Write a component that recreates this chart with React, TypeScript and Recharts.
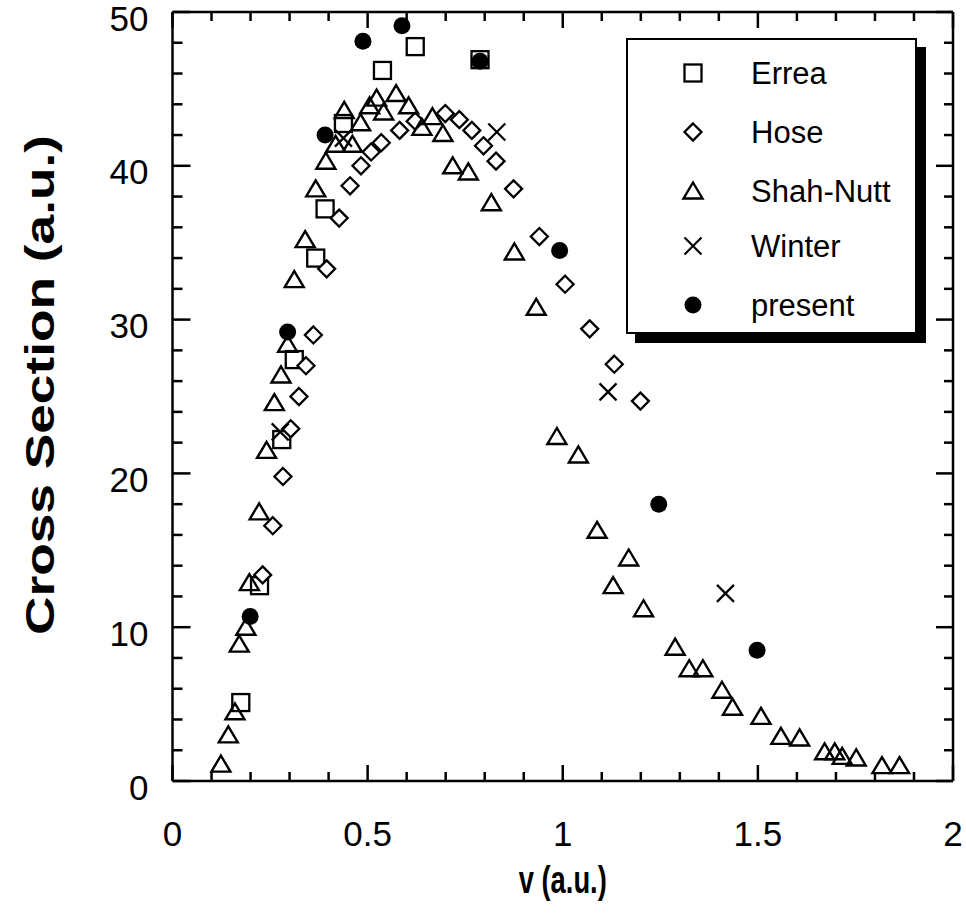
import React from 'react'
import { ScatterChart, Scatter, XAxis, YAxis, ReferenceLine } from 'recharts'

// values
const erreaV = [0.175, 0.223, 0.28, 0.312, 0.367, 0.391, 0.438, 0.538, 0.622, 0.788]
const erreaSigma = [5.1, 12.7, 22.2, 27.4, 34.0, 37.2, 42.75, 46.2, 47.75, 46.9]

const hoseV = [0.231, 0.257, 0.283, 0.303, 0.324, 0.342, 0.361, 0.395, 0.427, 0.455, 0.483, 0.509, 0.535, 0.582, 0.622, 0.699, 0.735, 0.767, 0.797, 0.829, 0.874, 0.94, 1.006, 1.069, 1.132, 1.199]
const hoseSigma = [13.4, 16.6, 19.8, 22.9, 25.0, 27.0, 29.0, 33.3, 36.6, 38.7, 40.0, 40.9, 41.5, 42.3, 42.9, 43.4, 43.0, 42.3, 41.3, 40.3, 38.5, 35.4, 32.3, 29.4, 27.1, 24.7]

const shahV = [0.124, 0.143, 0.16, 0.171, 0.188, 0.197, 0.222, 0.241, 0.261, 0.278, 0.295, 0.312, 0.34, 0.367, 0.393, 0.418, 0.44, 0.461, 0.482, 0.505, 0.523, 0.541, 0.573, 0.605, 0.639, 0.666, 0.693, 0.718, 0.758, 0.817, 0.876, 0.932, 0.985, 1.04, 1.088, 1.129, 1.169, 1.207, 1.288, 1.324, 1.359, 1.408, 1.435, 1.508, 1.559, 1.607, 1.671, 1.697, 1.716, 1.752, 1.818, 1.863]
const shahSigma = [1.1, 3.0, 4.5, 8.9, 10.0, 12.9, 17.5, 21.5, 24.6, 26.4, 28.4, 32.6, 35.2, 38.5, 40.3, 41.4, 43.6, 41.4, 42.8, 43.9, 44.4, 43.5, 44.7, 43.9, 42.5, 43.2, 42.1, 40.0, 39.6, 37.6, 34.4, 30.8, 22.4, 21.2, 16.3, 12.7, 14.5, 11.2, 8.7, 7.3, 7.3, 5.9, 4.8, 4.2, 2.9, 2.8, 1.9, 1.9, 1.6, 1.5, 1.0, 1.0]

const winterV = [0.276, 0.438, 0.831, 1.116, 1.417]
const winterSigma = [22.7, 41.8, 42.2, 25.3, 12.2]

const presentV = [0.199, 0.295, 0.391, 0.488, 0.588, 0.788, 0.992, 1.246, 1.498]
const presentSigma = [10.7, 29.2, 42.0, 48.1, 49.1, 46.8, 34.5, 18.0, 8.5]

const xMinorTicks = [0, 0.1, 0.2, 0.3, 0.4, 0.5, 0.6, 0.7, 0.8, 0.9, 1, 1.1, 1.2, 1.3, 1.4, 1.5, 1.6, 1.7, 1.8, 1.9, 2]
const xMajorTicks = [0, 0.5, 1, 1.5, 2]
const yMinorTicks = [0, 2, 4, 6, 8, 10, 12, 14, 16, 18, 20, 22, 24, 26, 28, 30, 32, 34, 36, 38, 40, 42, 44, 46, 48, 50]
const yMajorTicks = [0, 10, 20, 30, 40, 50]

const legendNames = ['Errea', 'Hose', 'Shah-Nutt', 'Winter', 'present']

const FONT = '"Liberation Sans", Arial, Helvetica, sans-serif'
const INK = '#000'

const W = 966
const H = 916
const M = { top: 12, right: 13, left: 172.5, bottom: 135 }
const X_MAX = 2
const Y_MAX = 50
// pixel lengths of the inward tick marks, turned into data units
const pxToX = (px: number) => (px / (W - M.left - M.right)) * X_MAX
const pxToY = (px: number) => (px / (H - M.top - M.bottom)) * Y_MAX

const zip = (xs: number[], ys: number[]) => xs.map((v, i) => ({ v, s: ys[i] }))
const isMajor = (v: number, step: number) => Math.abs(v / step - Math.round(v / step)) < 1e-6

// markers
function SquareMark({ cx, cy }: any) {
  return <rect x={cx - 8.5} y={cy - 8.5} width={17} height={17} fill="#fff" stroke={INK} strokeWidth={2.3} />
}
function DiamondMark({ cx, cy }: any) {
  return <polygon points={`${cx},${cy - 8.5} ${cx + 8.5},${cy} ${cx},${cy + 8.5} ${cx - 8.5},${cy}`} fill="#fff" stroke={INK} strokeWidth={2.3} />
}
function TriangleMark({ cx, cy }: any) {
  return <polygon points={`${cx},${cy - 8.5} ${cx + 9.5},${cy + 7.5} ${cx - 9.5},${cy + 7.5}`} fill="none" stroke={INK} strokeWidth={2.4} />
}
function CrossMark({ cx, cy }: any) {
  return (
    <g stroke={INK} strokeWidth={2.2}>
      <line x1={cx - 8.5} y1={cy - 8.5} x2={cx + 8.5} y2={cy + 8.5} />
      <line x1={cx - 8.5} y1={cy + 8.5} x2={cx + 8.5} y2={cy - 8.5} />
    </g>
  )
}
function DotMark({ cx, cy }: any) {
  return <circle cx={cx} cy={cy} r={8.5} fill={INK} />
}

const legendShapes = [SquareMark, DiamondMark, TriangleMark, CrossMark, DotMark]

function BottomLabel({ x, y, payload }: any) {
  return (
    <text x={x} y={y + 52} textAnchor="middle" dominantBaseline="central" fontSize={35} fontFamily={FONT} fill={INK}>
      {String(payload.value)}
    </text>
  )
}
function LeftLabel({ x, y, payload }: any) {
  return (
    <text x={x - 24} y={y + 6} textAnchor="end" dominantBaseline="central" fontSize={35} fontFamily={FONT} fill={INK}>
      {String(payload.value)}
    </text>
  )
}

function XTitle({ viewBox }: any) {
  const cx = viewBox.x + viewBox.width / 2
  return (
    <text x={cx} y={880} textAnchor="middle" dominantBaseline="central" fontSize={38} fontWeight="bold" fontFamily={FONT} fill={INK} textLength={88} lengthAdjust="spacingAndGlyphs">
      v (a.u.)
    </text>
  )
}
function YTitle() {
  return (
    <text x={40} y={385} transform="rotate(-90 40 385)" textAnchor="middle" dominantBaseline="central" fontSize={40} fontWeight="bold" fontFamily={FONT} fill={INK} textLength={500} lengthAdjust="spacingAndGlyphs">
      Cross Section (a.u.)
    </text>
  )
}

function LegendBox() {
  const rows = [73, 132, 191, 246, 305]
  return (
    <>
      <div style={{ position: 'absolute', left: 635, top: 47, width: 291, height: 296, background: INK }} />
      <div style={{ position: 'absolute', left: 626, top: 38, width: 287, height: 292, background: '#fff', border: '2px solid #000' }} />
      <svg style={{ position: 'absolute', left: 0, top: 0 }} width={W} height={H}>
        {legendNames.map((name, i) => {
          const Shape = legendShapes[i]
          return (
            <g key={name}>
              <Shape cx={693} cy={rows[i]} />
              <text x={751} y={rows[i]} dominantBaseline="central" fontSize={31} fontFamily={FONT} fill={INK}>
                {name}
              </text>
            </g>
          )
        })}
      </svg>
    </>
  )
}

function tickMarks() {
  const out: any[] = []
  const seg = (key: string, a: any, b: any) => (
    <ReferenceLine key={key} xAxisId="b" yAxisId="l" segment={[a, b]} stroke={INK} strokeWidth={2.5} ifOverflow="visible" />
  )
  xMinorTicks.forEach((v) => {
    const major = isMajor(v, 0.5)
    out.push(seg(`b${v}`, { x: v, y: 0 }, { x: v, y: pxToY(major ? 16 : 9) }))
    out.push(seg(`t${v}`, { x: v, y: Y_MAX }, { x: v, y: Y_MAX - pxToY(major ? 16 : 9) }))
  })
  yMinorTicks.forEach((v) => {
    const major = isMajor(v, 10)
    out.push(seg(`l${v}`, { x: 0, y: v }, { x: pxToX(major ? 18 : 10), y: v }))
    out.push(seg(`r${v}`, { x: X_MAX, y: v }, { x: X_MAX - pxToX(major ? 17 : 9), y: v }))
  })
  return out
}

export default function App() {
  const axisLine = { stroke: INK, strokeWidth: 2.5 }
  return (
    <div style={{ position: 'absolute', left: 0, top: 0, width: W, height: H, background: '#fff' }}>
      <ScatterChart width={W} height={H} margin={{ top: M.top, right: M.right, bottom: 0, left: 0 }}>
        <XAxis
          xAxisId="b"
          type="number"
          dataKey="v"
          domain={[0, X_MAX]}
          ticks={xMajorTicks}
          interval={0}
          height={M.bottom}
          tickSize={0}
          tickMargin={0}
          tickLine={false}
          axisLine={axisLine}
          tick={BottomLabel}
          label={{ content: XTitle }}
        />
        <YAxis
          yAxisId="l"
          type="number"
          dataKey="s"
          domain={[0, Y_MAX]}
          ticks={yMajorTicks}
          interval={0}
          width={M.left}
          tickSize={0}
          tickMargin={0}
          tickLine={false}
          axisLine={axisLine}
          tick={LeftLabel}
          label={{ content: YTitle }}
        />
        <XAxis xAxisId="t" orientation="top" mirror type="number" domain={[0, X_MAX]} ticks={xMajorTicks} tick={false} tickLine={false} axisLine={axisLine} />
        <YAxis yAxisId="r" orientation="right" mirror type="number" domain={[0, Y_MAX]} ticks={yMajorTicks} tick={false} tickLine={false} axisLine={axisLine} />
        {tickMarks()}
        <Scatter name="Errea" data={zip(erreaV, erreaSigma)} xAxisId="b" yAxisId="l" shape={SquareMark} isAnimationActive={false} />
        <Scatter name="Hose" data={zip(hoseV, hoseSigma)} xAxisId="b" yAxisId="l" shape={DiamondMark} isAnimationActive={false} />
        <Scatter name="Shah-Nutt" data={zip(shahV, shahSigma)} xAxisId="b" yAxisId="l" shape={TriangleMark} isAnimationActive={false} />
        <Scatter name="Winter" data={zip(winterV, winterSigma)} xAxisId="b" yAxisId="l" shape={CrossMark} isAnimationActive={false} />
        <Scatter name="present" data={zip(presentV, presentSigma)} xAxisId="b" yAxisId="l" shape={DotMark} isAnimationActive={false} />
      </ScatterChart>
      <LegendBox />
    </div>
  )
}
